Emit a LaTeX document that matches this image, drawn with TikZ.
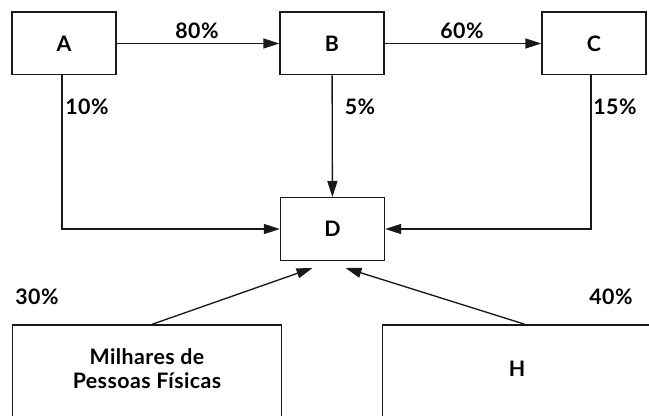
\documentclass[tikz,border=0pt]{standalone}
\usepackage{fontspec}
\setmainfont{Lato}[LetterSpace=2]
\usetikzlibrary{arrows.meta,calc}
\begin{document}
\begin{tikzpicture}[x=0.75pt,y=-0.75pt,
  box/.style={draw=black!90,line width=1pt,minimum width=78pt,minimum height=47pt,inner sep=0pt,font=\bfseries\fontsize{16}{18}\selectfont},
  bigbox/.style={draw=black!90,line width=1pt,minimum width=202pt,minimum height=75pt,inner sep=0pt},
  conn/.style={draw=black!90,line width=1pt,-{Triangle[length=12pt,width=7.5pt]}},
  pct/.style={font=\bfseries\fontsize{16}{18}\selectfont,inner sep=0pt},
  txt/.style={font=\bfseries\fontsize{16}{18}\selectfont,align=center,inner sep=0pt}]
\clip (0,0) rectangle (649,416);
\fill[white] (0,0) rectangle (649,416);
\node[box] (A) at (64,43.5) {A};
\node[box] (B) at (332,43.5) {B};
\node[box] (C) at (594,43.5) {C};
\node[box] (D) at (332.5,229) {D};
\node[bigbox] (M) at (147,375) {};
\node[bigbox] (H) at (517,375) {};
\node[txt] (Mt) at (147,369) {Milhares de\\Pessoas Físicas};
\node[txt] (Ht) at (517,369) {H};
\coordinate (Ms) at ($(M.north)+(5,0)$);
\coordinate (Hs) at ($(H.north)+(8,0)$);
\coordinate (Dl) at ($(D.south)+(-20,7)$);
\coordinate (Dr) at ($(D.south)+(13,7)$);
\draw[conn] (A) -- (B);
\draw[conn] (B) -- (C);
\draw[conn] ($(A.south)+(-2,0)$) |- (D.west);
\draw[conn] ($(C.south)+(-3,0)$) |- (D.east);
\draw[conn] (B) -- (D);
\draw[conn] (Ms) -- (Dl);
\draw[conn] (Hs) -- (Dr);
\node[pct] (p80) at (197,31) {80\%};
\node[pct] (p60) at (462,31) {60\%};
\node[pct] (p10) at (87,107) {10\%};
\node[pct] (p5) at (360,107) {5\%};
\node[pct] (p15) at (615,107) {15\%};
\node[pct] (p30) at (37,297) {30\%};
\node[pct] (p40) at (611,297) {40\%};
\end{tikzpicture}
\end{document}
